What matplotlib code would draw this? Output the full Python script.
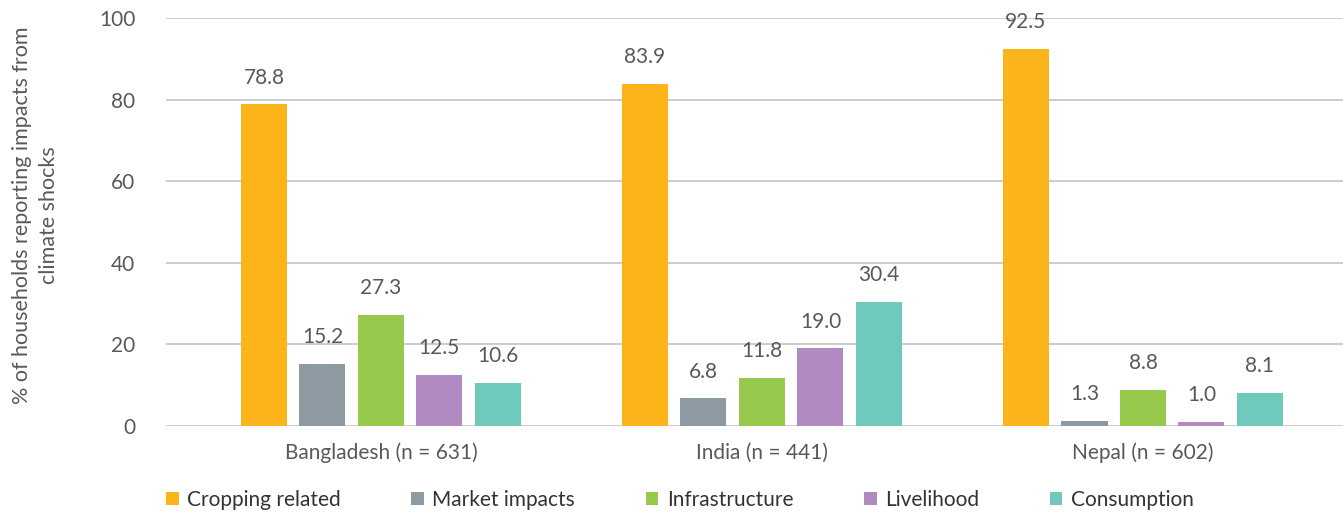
import matplotlib
matplotlib.use("Agg")
import matplotlib.pyplot as plt
import numpy as np

categories = ["Bangladesh (n = 631)", "India (n = 441)", "Nepal (n = 602)"]
series_names = ["Cropping related", "Market impacts", "Infrastructure", "Livelihood", "Consumption"]
cropping = [78.8, 83.9, 92.5]
market = [15.2, 6.8, 1.3]
infrastructure = [27.3, 11.8, 8.8]
livelihood = [12.5, 19.0, 1.0]
consumption = [10.6, 30.4, 8.1]
series_values = [cropping, market, infrastructure, livelihood, consumption]
colors = ["#FBB41A", "#8E9AA2", "#97C94D", "#B08AC0", "#6FCABC"]
yticks = [0, 20, 40, 60, 80, 100]

plt.rcParams['font.family'] = ['Lato', 'DejaVu Sans']
fig = plt.figure(figsize=(13.43, 5.12), dpi=100)
ax = fig.add_axes([166/1343, 1-426/512, (1343-166)/1343, (426-18)/512])

x = np.arange(len(categories))
bw = 0.121
step = 0.1535
text_col = "#595959"
for i, (name, vals, c) in enumerate(zip(series_names, series_values, colors)):
    pos = x + (i - 2) * step
    ax.bar(pos, vals, width=bw, color=c, label=name, zorder=3)
    for p, v in zip(pos, vals):
        ax.annotate(f"{v:.1f}", (p, v), xytext=(0, 12), textcoords="offset points",
                    ha="center", va="bottom", fontsize=15, color=text_col)

ax.set_xlim(-0.564, 2.525)
ax.set_ylim(0, 100)
ax.set_yticks(yticks)
ax.set_xticks(x)
ax.set_xticklabels(categories)
ax.tick_params(axis='both', length=0, labelsize=15, labelcolor=text_col)
ax.tick_params(axis='x', pad=12)
ax.tick_params(axis='y', pad=22)
ax.grid(axis='y', color="#C8C8C8", linewidth=1.3, zorder=0)
for s in ax.spines.values():
    s.set_visible(False)

fig.text(0.0265, 1-215/512, "% of households reporting impacts from\nclimate shocks",
         rotation=90, ha="center", va="center", fontsize=15.5, color=text_col, linespacing=1.4)

leg = fig.legend(loc="lower left", bbox_to_anchor=(147/1343, -0.032), ncol=5, frameon=False,
                 fontsize=15, handlelength=0.62, handleheight=0.62, handletextpad=0.4,
                 columnspacing=3.38, labelcolor="#333333")

fig.savefig("out.png", dpi=100)
